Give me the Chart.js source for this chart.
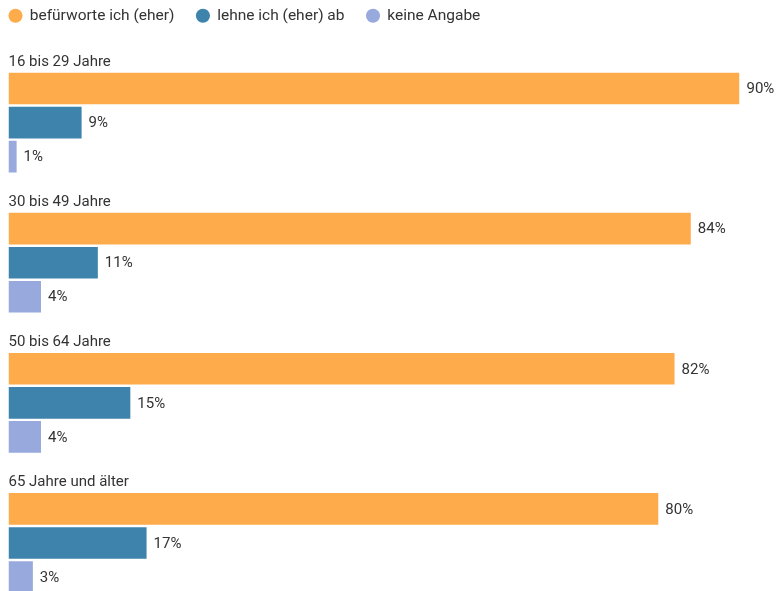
<!DOCTYPE html>
<html>
<head>
<meta charset="utf-8">
<script src="https://cdn.jsdelivr.net/npm/chart.js@4/dist/chart.umd.min.js"></script>
<style>
    html, body { margin: 0; padding: 0; background: #fff; overflow: hidden; }
    #wrap { position: relative; width: 776px; height: 591px; overflow: hidden; }
    #ageChart { position: absolute; left: -13px; top: -14px; }
</style>
</head>
<body>
<div id="wrap">
    <canvas id="ageChart" width="789" height="610"></canvas>
</div>
<script>
// Altersgruppen und Antworten
const categories = ['16 bis 29 Jahre', '30 bis 49 Jahre', '50 bis 64 Jahre', '65 Jahre und älter'];
const befuerworte = [90, 84, 82, 80];
const lehneAb = [9, 11, 15, 17];
const keineAngabe = [1, 4, 4, 3];

const textColor = '#333333';
Chart.defaults.font.family = 'Roboto';
Chart.defaults.font.size = 15;
Chart.defaults.color = textColor;

// a bit more room under the legend
const legendSpace = {
    id: 'legendSpace',
    beforeInit(chart) {
        const fit = chart.legend.fit;
        chart.legend.fit = function () {
            fit.call(this);
            this.height += 2;
        };
    }
};

// group titles above the bars and values at the bar ends
const barLabels = {
    id: 'barLabels',
    afterDatasetsDraw(chart) {
        const ctx = chart.ctx;
        ctx.save();
        ctx.font = '15px Roboto';
        ctx.fillStyle = textColor;

        const first = chart.getDatasetMeta(1);
        ctx.textAlign = 'left';
        ctx.textBaseline = 'alphabetic';
        first.data.forEach((bar, i) => {
            ctx.fillText(categories[i], chart.chartArea.left, bar.y - bar.height / 2 - 7);
        });

        ctx.textBaseline = 'middle';
        for (let d = 1; d < chart.data.datasets.length; d++) {
            const meta = chart.getDatasetMeta(d);
            meta.data.forEach((bar, i) => {
                const value = chart.data.datasets[d].data[i];
                ctx.fillText(value + '%', bar.x + 7, bar.y + 1);
            });
        }
        ctx.restore();
    }
};

const ageChart = document.getElementById('ageChart');
new Chart(ageChart, {
    type: 'bar',
    data: {
        labels: categories,
        datasets: [{
            // empty slot where the group title sits
            label: '',
            data: []
        }, {
            label: 'befürworte ich (eher)',
            data: befuerworte,
            backgroundColor: '#fdab4b',
            pointStyle: 'circle'
        }, {
            label: 'lehne ich (eher) ab',
            data: lehneAb,
            backgroundColor: '#3e83ab',
            pointStyle: 'circle'
        }, {
            label: 'keine Angabe',
            data: keineAngabe,
            backgroundColor: '#98a9dd',
            pointStyle: 'circle'
        }]
    },
    options: {
        indexAxis: 'y',
        responsive: false,
        animation: false,
        categoryPercentage: 136 / 140,
        barPercentage: 0.93,
        layout: {
            padding: { left: 0, right: 36.5, top: 0, bottom: 0 }
        },
        plugins: {
            legend: {
                position: 'top',
                align: 'start',
                labels: {
                    usePointStyle: true,
                    boxWidth: 13,
                    boxHeight: 10,
                    padding: 22,
                    color: textColor,
                    font: { size: 15.5 },
                    filter: item => item.datasetIndex > 0
                }
            },
            tooltip: {
                enabled: false
            }
        },
        scales: {
            x: {
                display: false,
                min: 0,
                max: 90
            },
            y: {
                display: true,
                ticks: { display: false },
                grid: { display: false },
                border: { display: false },
                afterFit: scale => {
                    scale.width = 21.5;
                }
            }
        }
    },
    plugins: [legendSpace, barLabels]
});
</script>
</body>
</html>
